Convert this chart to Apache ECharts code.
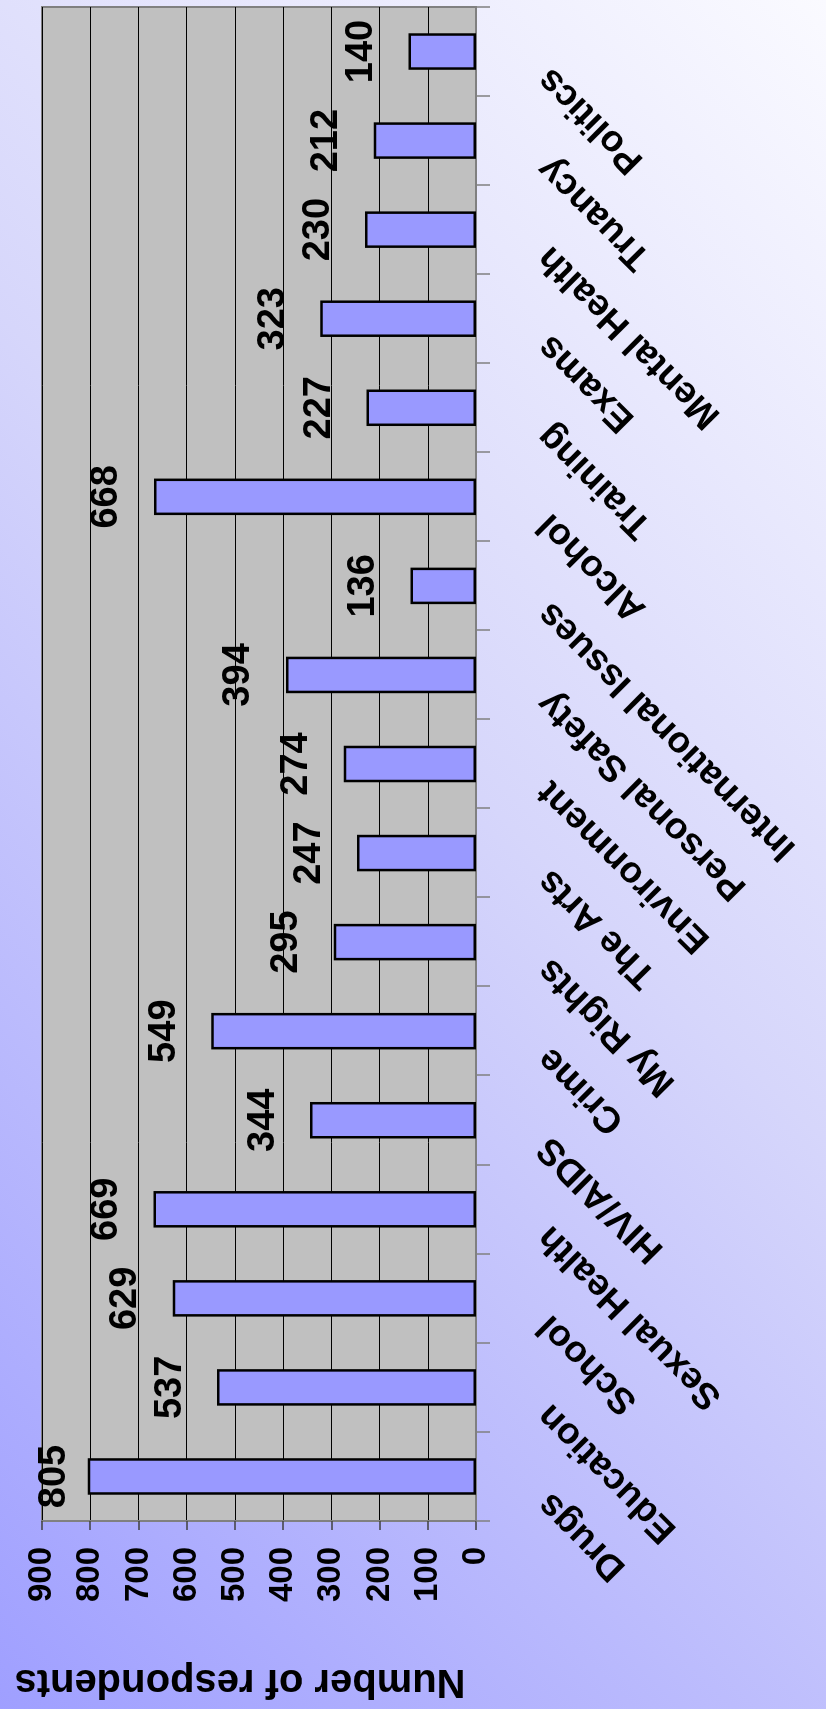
<!DOCTYPE html>
<html>
<head>
<meta charset="utf-8">
<title>Number of respondents by topic</title>
<script src="https://cdn.jsdelivr.net/npm/echarts@6/dist/echarts.min.js"></script>
<style>
  html, body {
    margin: 0;
    padding: 0;
    width: 826px;
    height: 1709px;
    overflow: hidden;
  }
  body {
    background: linear-gradient(45deg, #9f9fff 0%, #d6d6fb 55%, #fafaff 100%);
    position: relative;
  }
  /* The column chart is laid out landscape and turned a quarter turn
     counter-clockwise so that it fills the portrait page. */
  #chart {
    position: absolute;
    left: 0;
    top: 1709px;
    width: 1709px;
    height: 826px;
    transform-origin: 0 0;
    transform: rotate(-90deg);
  }
</style>
</head>
<body>
<div id="chart"></div>
<script>
// Topics, in axis order
const categories = [
  'Drugs', 'Education', 'School', 'Sexual Health', 'HIV/AIDS', 'Crime',
  'My Rights', 'The Arts', 'Environment', 'Personal Safety',
  'International Issues', 'Alcohol', 'Training', 'Exams', 'Mental Health',
  'Truancy', 'Politics'
];

// Number of respondents choosing each topic
const respondents = [
  805, 537, 629, 669, 344, 549, 295, 247, 274, 394,
  136, 668, 227, 323, 230, 212, 140
];

// Value axis range and step
const valueMin = 0;
const valueMax = 900;
const valueStep = 100;

const axisTitle = 'Number of respondents';

const fontFamily = '"Liberation Sans", Arial, Helvetica, sans-serif';

// Keep the value labels inside the plot area
const plotTop = 42;

const chart = echarts.init(document.getElementById('chart'), null, {
  renderer: 'canvas',
  width: 1709,
  height: 826
});

chart.setOption({
  animation: false,
  backgroundColor: 'transparent',
  grid: {
    left: 185,
    right: 7,
    top: plotTop,
    bottom: 350,
    show: true,
    backgroundColor: '#c0c0c0',
    borderColor: '#808080',
    borderWidth: 2,
    containLabel: false
  },
  xAxis: {
    type: 'category',
    data: categories,
    boundaryGap: true,
    axisLine: { show: true, lineStyle: { color: '#808080', width: 2 } },
    axisTick: {
      show: true,
      alignWithLabel: false,
      interval: 0,
      length: 14,
      lineStyle: { color: '#808080', width: 1.5 }
    },
    axisLabel: {
      interval: 0,
      rotate: 45,
      margin: 72,
      verticalAlign: 'bottom',
      padding: [0, 13, 0, 0],
      color: '#000',
      fontSize: 37,
      fontWeight: 'bold',
      fontFamily: fontFamily
    }
  },
  yAxis: {
    type: 'value',
    min: valueMin,
    max: valueMax,
    interval: valueStep,
    name: axisTitle,
    nameLocation: 'middle',
    nameRotate: 90,
    nameGap: 140,
    nameTextStyle: {
      color: '#000',
      fontSize: 40,
      fontWeight: 'bold',
      fontFamily: fontFamily,
      padding: [0, 0, 0, 38]
    },
    axisLine: { show: true, lineStyle: { color: '#808080', width: 2 } },
    axisTick: {
      show: true,
      length: 9,
      lineStyle: { color: '#404040', width: 1.5 }
    },
    axisLabel: {
      margin: 26,
      color: '#000',
      fontSize: 33,
      fontWeight: 'bold',
      fontFamily: fontFamily
    },
    splitLine: {
      show: true,
      lineStyle: { color: '#000', width: 1 }
    }
  },
  series: [{
    type: 'bar',
    data: respondents,
    barWidth: '41%',
    itemStyle: {
      color: '#9999ff',
      borderColor: '#000',
      borderWidth: 2.5
    },
    label: {
      show: true,
      position: 'top',
      distance: 28,
      color: '#000',
      fontSize: 38,
      fontWeight: 'bold',
      fontFamily: fontFamily
    },
    labelLayout: function (params) {
      const minY = plotTop - 6;
      if (params.labelRect.y < minY) {
        return { dy: minY - params.labelRect.y };
      }
      return {};
    }
  }]
});
</script>
</body>
</html>
